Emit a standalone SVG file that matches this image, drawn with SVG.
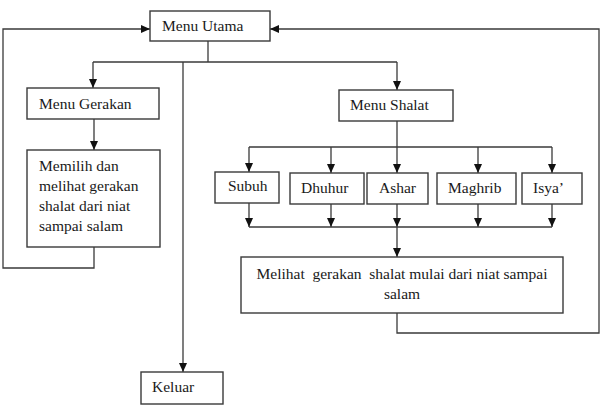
<svg xmlns="http://www.w3.org/2000/svg" width="601" height="408" viewBox="0 0 601 408" font-family="Liberation Serif">
<style>
.box{fill:#fff;stroke:#3a3a3a;stroke-width:1.4}
.t{font-size:15.5px;fill:#1a1a1a}
.ln{fill:none;stroke:#3a3a3a;stroke-width:1.3}
</style>
<defs>
<marker id="ah" markerUnits="userSpaceOnUse" markerWidth="9" markerHeight="8" refX="9" refY="4" orient="auto">
<path d="M0,0 L9,4 L0,8 z" fill="#111"/>
</marker>
</defs>
<rect width="601" height="408" fill="#fff"/>
<g id="connectors">
<polyline class="ln" points="94,247 94,268 3,268 3,29 150,29" marker-end="url(#ah)"/>
<polyline class="ln" points="397,313 397,333 599,333 599,29 270,29" marker-end="url(#ah)"/>
<line class="ln" x1="208" y1="41" x2="208" y2="62"/>
<line class="ln" x1="93" y1="62" x2="397" y2="62"/>
<line class="ln" x1="93" y1="62" x2="93" y2="88" marker-end="url(#ah)"/>
<line class="ln" x1="397" y1="62" x2="397" y2="90" marker-end="url(#ah)"/>
<line class="ln" x1="183" y1="62" x2="183" y2="372" marker-end="url(#ah)"/>
<line class="ln" x1="94" y1="119" x2="94" y2="150" marker-end="url(#ah)"/>
<line class="ln" x1="397" y1="121" x2="397" y2="147"/>
<line class="ln" x1="249" y1="147" x2="552" y2="147"/>
<line class="ln" x1="249" y1="147" x2="249" y2="172" marker-end="url(#ah)"/>
<line class="ln" x1="331" y1="147" x2="331" y2="173" marker-end="url(#ah)"/>
<line class="ln" x1="397" y1="147" x2="397" y2="173" marker-end="url(#ah)"/>
<line class="ln" x1="478" y1="147" x2="478" y2="173" marker-end="url(#ah)"/>
<line class="ln" x1="552" y1="147" x2="552" y2="173" marker-end="url(#ah)"/>
<line class="ln" x1="249" y1="203" x2="249" y2="227" marker-end="url(#ah)"/>
<line class="ln" x1="331" y1="204" x2="331" y2="227" marker-end="url(#ah)"/>
<line class="ln" x1="397" y1="204" x2="397" y2="227" marker-end="url(#ah)"/>
<line class="ln" x1="478" y1="204" x2="478" y2="227" marker-end="url(#ah)"/>
<line class="ln" x1="552" y1="204" x2="552" y2="227" marker-end="url(#ah)"/>
<line class="ln" x1="249" y1="227" x2="552" y2="227"/>
<line class="ln" x1="397" y1="227" x2="397" y2="257" marker-end="url(#ah)"/>
</g>
<g id="menu-utama"><rect class="box" x="150" y="11" width="120" height="30"/><text class="t" x="162" y="31">Menu Utama</text></g>
<g id="menu-gerakan"><rect class="box" x="27" y="88" width="132" height="31"/><text class="t" x="39" y="109">Menu Gerakan</text></g>
<g id="memilih"><rect class="box" x="27" y="150" width="133" height="97"/>
<text class="t" x="39" y="171">Memilih dan</text>
<text class="t" x="39" y="191">melihat gerakan</text>
<text class="t" x="39" y="211">shalat dari niat</text>
<text class="t" x="39" y="231">sampai salam</text></g>
<g id="menu-shalat"><rect class="box" x="339" y="90" width="114" height="31"/><text class="t" x="350" y="110">Menu Shalat</text></g>
<g id="subuh"><rect class="box" x="215" y="172" width="64" height="31"/><text class="t" x="228" y="191">Subuh</text></g>
<g id="dhuhur"><rect class="box" x="290" y="173" width="74" height="31"/><text class="t" x="301" y="193">Dhuhur</text></g>
<g id="ashar"><rect class="box" x="367" y="173" width="61" height="31"/><text class="t" x="379" y="193">Ashar</text></g>
<g id="maghrib"><rect class="box" x="437" y="173" width="79" height="31"/><text class="t" x="448" y="193">Maghrib</text></g>
<g id="isya"><rect class="box" x="522" y="173" width="60" height="31"/><text class="t" x="533" y="193">Isya’</text></g>
<g id="melihat"><rect class="box" x="241" y="257" width="322" height="56"/>
<text class="t" x="402" y="279" text-anchor="middle" xml:space="preserve">Melihat  gerakan  shalat mulai dari niat sampai</text>
<text class="t" x="402" y="299" text-anchor="middle">salam</text></g>
<g id="keluar"><rect class="box" x="141" y="372" width="82" height="32"/><text class="t" x="152" y="392">Keluar</text></g>
</svg>
